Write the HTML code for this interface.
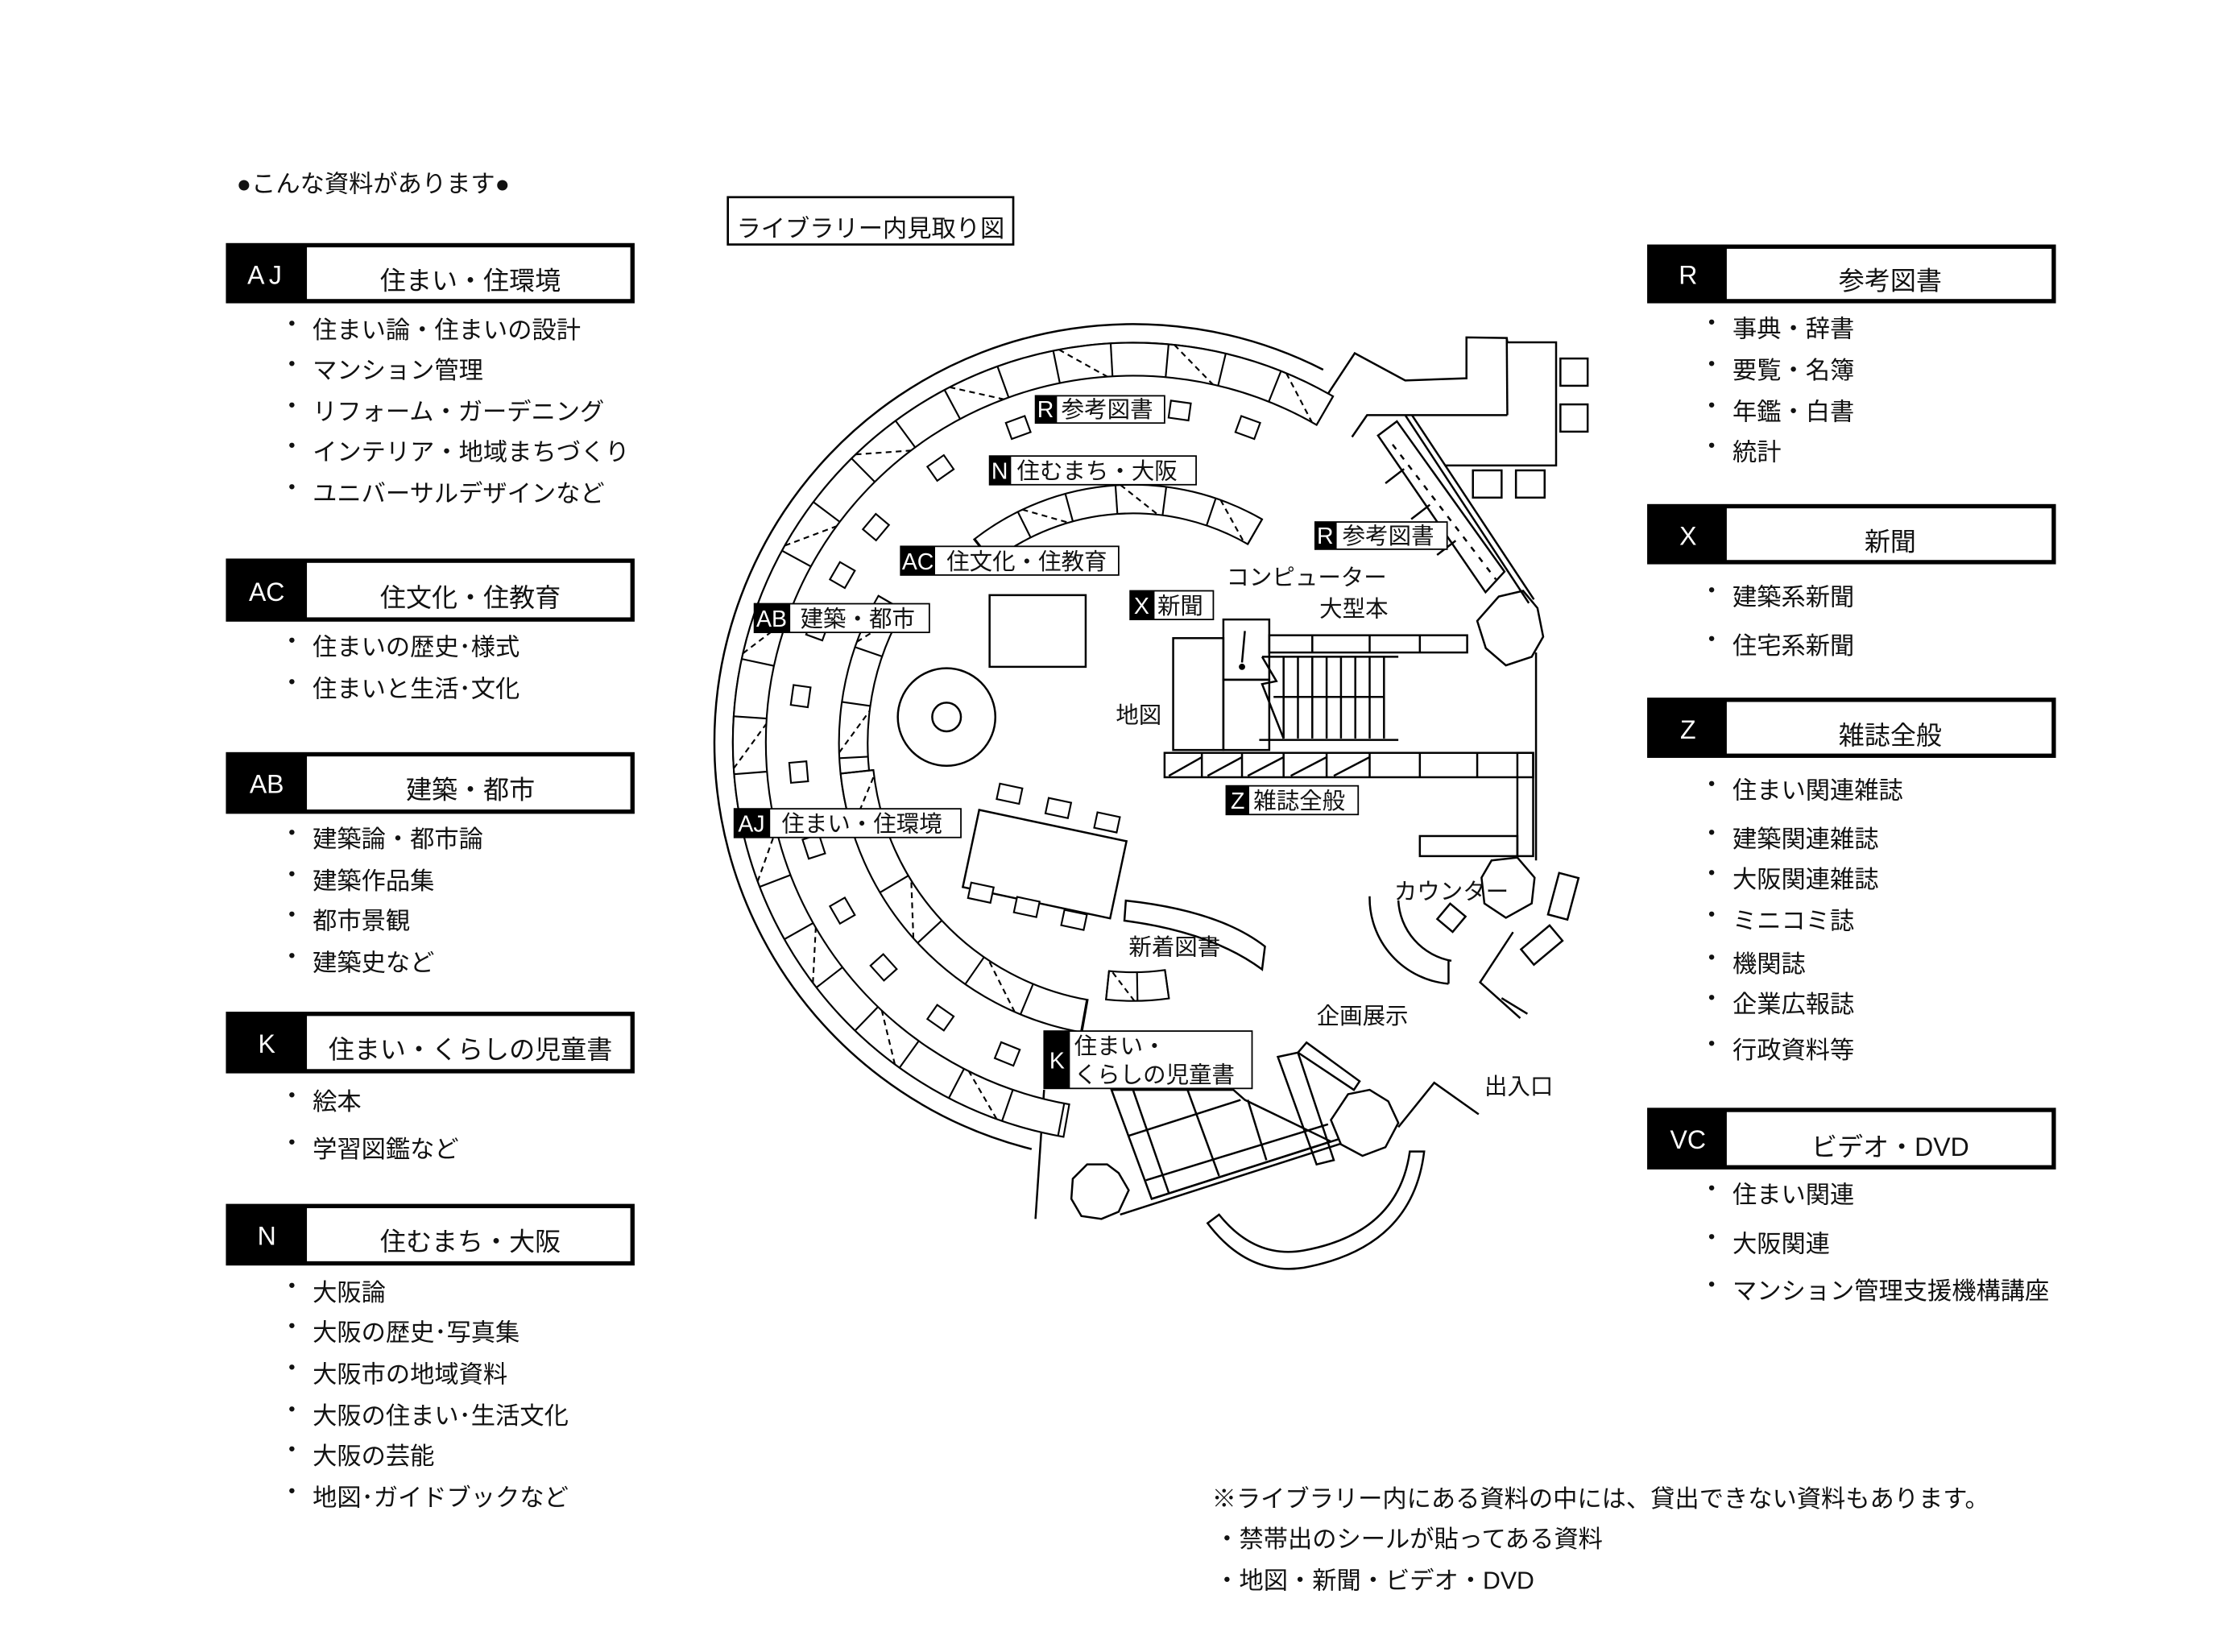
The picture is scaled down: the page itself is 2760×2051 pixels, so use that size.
<!DOCTYPE html>
<html><head><meta charset="utf-8">
<style>
html,body{margin:0;padding:0;background:#fff;}
svg{display:block;}
text{font-family:"Liberation Sans","Noto Sans CJK JP",sans-serif;fill:#111;}
</style></head>
<body>
<svg id="s" width="2760" height="2051" viewBox="0 0 1550 1152" preserveAspectRatio="none" xmlns="http://www.w3.org/2000/svg">
<rect width="1550" height="1152" fill="#fff"/>
<g font-size="17">
<text x="165" y="134">●こんな資料があります●</text>
</g>

<g font-size="18">
  <rect x="159" y="171" width="282" height="39" fill="#fff" stroke="#000" stroke-width="3"/><rect x="159" y="171" width="55" height="39" fill="#000"/>
  <text x="186" y="198" style="fill:#fff" text-anchor="middle" letter-spacing="3">AJ</text><text x="328" y="202" text-anchor="middle">住まい・住環境</text>
  <rect x="159" y="391" width="282" height="41" fill="#fff" stroke="#000" stroke-width="3"/><rect x="159" y="391" width="55" height="41" fill="#000"/>
  <text x="186" y="419" style="fill:#fff" text-anchor="middle">AC</text><text x="328" y="423" text-anchor="middle">住文化・住教育</text>
  <rect x="159" y="526" width="282" height="40" fill="#fff" stroke="#000" stroke-width="3"/><rect x="159" y="526" width="55" height="40" fill="#000"/>
  <text x="186" y="553" style="fill:#fff" text-anchor="middle">AB</text><text x="328" y="557" text-anchor="middle">建築・都市</text>
  <rect x="159" y="707" width="282" height="40" fill="#fff" stroke="#000" stroke-width="3"/><rect x="159" y="707" width="55" height="40" fill="#000"/>
  <text x="186" y="734" style="fill:#fff" text-anchor="middle">K</text><text x="328" y="738" text-anchor="middle">住まい・くらしの児童書</text>
  <rect x="159" y="841" width="282" height="40" fill="#fff" stroke="#000" stroke-width="3"/><rect x="159" y="841" width="55" height="40" fill="#000"/>
  <text x="186" y="868" style="fill:#fff" text-anchor="middle">N</text><text x="328" y="872" text-anchor="middle">住むまち・大阪</text>
</g>
<g font-size="17">
  <text x="195" y="232">・</text><text x="218" y="236">住まい論・住まいの設計</text>
  <text x="195" y="260">・</text><text x="218" y="264">マンション管理</text>
  <text x="195" y="289">・</text><text x="218" y="293">リフォーム・ガーデニング</text>
  <text x="195" y="317">・</text><text x="218" y="321">インテリア・地域まちづくり</text>
  <text x="195" y="346">・</text><text x="218" y="350">ユニバーサルデザインなど</text>
  <text x="195" y="453">・</text><text x="218" y="457">住まいの歴史･様式</text>
  <text x="195" y="482">・</text><text x="218" y="486">住まいと生活･文化</text>
  <text x="195" y="587">・</text><text x="218" y="591">建築論・都市論</text>
  <text x="195" y="616">・</text><text x="218" y="620">建築作品集</text>
  <text x="195" y="644">・</text><text x="218" y="648">都市景観</text>
  <text x="195" y="673">・</text><text x="218" y="677">建築史など</text>
  <text x="195" y="770">・</text><text x="218" y="774">絵本</text>
  <text x="195" y="803">・</text><text x="218" y="807">学習図鑑など</text>
  <text x="195" y="903">・</text><text x="218" y="907">大阪論</text>
  <text x="195" y="931">・</text><text x="218" y="935">大阪の歴史･写真集</text>
  <text x="195" y="960">・</text><text x="218" y="964">大阪市の地域資料</text>
  <text x="195" y="989">・</text><text x="218" y="993">大阪の住まい･生活文化</text>
  <text x="195" y="1017">・</text><text x="218" y="1021">大阪の芸能</text>
  <text x="195" y="1046">・</text><text x="218" y="1050">地図･ガイドブックなど</text>
</g>

<g font-size="18">
  <rect x="1150" y="172" width="282" height="38" fill="#fff" stroke="#000" stroke-width="3"/><rect x="1150" y="172" width="54" height="38" fill="#000"/>
  <text x="1177" y="198" style="fill:#fff" text-anchor="middle">R</text><text x="1318" y="202" text-anchor="middle">参考図書</text>
  <rect x="1150" y="353" width="282" height="39" fill="#fff" stroke="#000" stroke-width="3"/><rect x="1150" y="353" width="54" height="39" fill="#000"/>
  <text x="1177" y="380" style="fill:#fff" text-anchor="middle">X</text><text x="1318" y="384" text-anchor="middle">新聞</text>
  <rect x="1150" y="488" width="282" height="39" fill="#fff" stroke="#000" stroke-width="3"/><rect x="1150" y="488" width="54" height="39" fill="#000"/>
  <text x="1177" y="515" style="fill:#fff" text-anchor="middle">Z</text><text x="1318" y="519" text-anchor="middle">雑誌全般</text>
  <rect x="1150" y="774" width="282" height="40" fill="#fff" stroke="#000" stroke-width="3"/><rect x="1150" y="774" width="54" height="40" fill="#000"/>
  <text x="1177" y="801" style="fill:#fff" text-anchor="middle">VC</text><text x="1318" y="806" text-anchor="middle">ビデオ・DVD</text>
</g>
<g font-size="17">
  <text x="1185" y="231">・</text><text x="1208" y="235">事典・辞書</text>
  <text x="1185" y="260">・</text><text x="1208" y="264">要覧・名簿</text>
  <text x="1185" y="289">・</text><text x="1208" y="293">年鑑・白書</text>
  <text x="1185" y="317">・</text><text x="1208" y="321">統計</text>
  <text x="1185" y="418">・</text><text x="1208" y="422">建築系新聞</text>
  <text x="1185" y="452">・</text><text x="1208" y="456">住宅系新聞</text>
  <text x="1185" y="553">・</text><text x="1208" y="557">住まい関連雑誌</text>
  <text x="1185" y="587">・</text><text x="1208" y="591">建築関連雑誌</text>
  <text x="1185" y="615">・</text><text x="1208" y="619">大阪関連雑誌</text>
  <text x="1185" y="644">・</text><text x="1208" y="648">ミニコミ誌</text>
  <text x="1185" y="674">・</text><text x="1208" y="678">機関誌</text>
  <text x="1185" y="702">・</text><text x="1208" y="706">企業広報誌</text>
  <text x="1185" y="734">・</text><text x="1208" y="738">行政資料等</text>
  <text x="1185" y="835">・</text><text x="1208" y="839">住まい関連</text>
  <text x="1185" y="869">・</text><text x="1208" y="873">大阪関連</text>
  <text x="1185" y="902">・</text><text x="1208" y="906">マンション管理支援機構講座</text>
</g>

<rect x="507.5" y="137.5" width="199" height="33" fill="#fff" stroke="#000" stroke-width="1.5"/>
<text x="607" y="165" font-size="17" text-anchor="middle">ライブラリー内見取り図</text>

<g font-size="17">
<text x="845" y="1051">※ライブラリー内にある資料の中には、貸出できない資料もあります。</text>
<text x="847" y="1079">・禁帯出のシールが貼ってある資料</text>
<text x="847" y="1108">・地図・新聞・ビデオ・DVD</text>
</g>

<g id="map" fill="none" stroke="#000" stroke-width="1.4">
  <path d="M922.6,257.8 A292,292 0 1 0 719.3,801.3"/>
  <g id="dynwall"></g>
  <rect x="690" y="415" width="67" height="50" fill="#fff"/>
  <circle cx="660" cy="500" r="34"/><circle cx="660" cy="500" r="10"/>
  <rect x="676" y="575" width="105" height="55" transform="rotate(12 728 602)" fill="#fff"/>
  <path d="M785,628 Q850,635 882,660 L880,676 Q845,650 784,642 Z" fill="#fff"/>
  <!-- stairs block -->
  <rect x="818" y="445" width="35" height="78"/>
  <rect x="853" y="432" width="32" height="42"/><rect x="853" y="474" width="32" height="49"/>
  <rect x="885" y="443" width="138" height="12"/>
  <line x1="915" y1="443" x2="915" y2="455"/><line x1="955" y1="443" x2="955" y2="455"/><line x1="990" y1="443" x2="990" y2="455"/>
  <line x1="880" y1="458" x2="975" y2="458"/>
  <line x1="878" y1="516" x2="975" y2="516"/>
  <polyline points="880,458 890,475 880,477 895,515"/>
  <line x1="868" y1="440" x2="866" y2="462"/>
  <circle cx="866" cy="465" r="1.5" fill="#000"/>
  <g>
    <line x1="895" y1="458" x2="895" y2="515"/><line x1="905" y1="458" x2="905" y2="515"/><line x1="915" y1="458" x2="915" y2="515"/>
    <line x1="925" y1="458" x2="925" y2="515"/><line x1="935" y1="458" x2="935" y2="515"/><line x1="945" y1="458" x2="945" y2="515"/>
    <line x1="955" y1="458" x2="955" y2="515"/><line x1="965" y1="458" x2="965" y2="515"/>
    <line x1="888" y1="486" x2="965" y2="486"/>
  </g>
  <rect x="812" y="525" width="257" height="17"/>
  <line x1="838" y1="525" x2="838" y2="542"/><line x1="866" y1="525" x2="866" y2="542"/><line x1="895" y1="525" x2="895" y2="542"/><line x1="925" y1="525" x2="925" y2="542"/><line x1="955" y1="525" x2="955" y2="542"/><line x1="990" y1="525" x2="990" y2="542"/><line x1="1030" y1="525" x2="1030" y2="542"/>
  <line x1="815" y1="541" x2="838" y2="528"/><line x1="842" y1="541" x2="866" y2="528"/><line x1="870" y1="541" x2="895" y2="528"/><line x1="900" y1="541" x2="925" y2="528"/><line x1="930" y1="541" x2="955" y2="528"/>
  <rect x="1058" y="525" width="11" height="72"/>
  <rect x="990" y="583" width="68" height="14"/>
  <!-- right building -->
  <polyline points="921.8,280.9 944.6,246.3 979.8,265.3 1022.5,263.8 1022.5,235.3 1050.6,235.7 1051,238.7 1085,238.7 1085,324.6 1007.3,324.6"/>
  <line x1="1050.6" y1="235.7" x2="1051" y2="289.5"/>
  <polyline points="1051,289.5 953.2,289.5 942.7,304.7"/>
  <rect x="1088" y="250" width="19" height="19"/><rect x="1088" y="282" width="19" height="19"/>
  <rect x="1027" y="328" width="20" height="19"/><rect x="1057" y="328" width="20" height="19"/>
  <line x1="979.8" y1="289.5" x2="1066" y2="420.6"/>
  <line x1="984.5" y1="289.5" x2="1069.5" y2="418"/>
  <polygon points="960.8,303.7 974,293.8 1049,398.6 1035.8,413"/>
  <line x1="979" y1="327" x2="966" y2="337"/><line x1="997" y1="352" x2="984" y2="362"/><line x1="1015" y1="377" x2="1002" y2="387"/>
  <line x1="971" y1="310" x2="1043" y2="404" stroke-dasharray="4,5"/>
  <polygon points="1045,416 1062,412 1072,424 1076,444 1068,458 1050,464 1036,452 1030,433"/>
  <line x1="1071" y1="455" x2="1071" y2="600"/>
  <!-- counter -->
  <path d="M955,625 A60,60 0 0 0 1010,686"/>
  <path d="M975,628 A45,45 0 0 0 1012,670"/>
  <path d="M1010,670 L1010,686"/>
  <rect x="1005" y="633" width="14" height="14" transform="rotate(40 1012 640)"/>
  <polygon points="1040,600 1058,598 1070,612 1068,630 1050,640 1035,630 1033,612"/>
  <rect x="1083" y="610" width="14" height="30" transform="rotate(15 1090 625)"/>
  <rect x="1062" y="652" width="26" height="14" transform="rotate(-40 1075 659)"/>
  <polyline points="1055,650 1032,685 1060,710"/>
  <line x1="1047" y1="696" x2="1065" y2="707"/>
  <!-- entrance -->
  <polygon points="891,737 905,734 930,809 918,812"/>
  <polygon points="905,734 911,727 948,754 944,760"/>
  <polygon points="775,760 860,760 868,767 928,796 803,836"/>
  <line x1="790" y1="760" x2="815" y2="832"/>
  <line x1="828" y1="760" x2="850" y2="820"/>
  <line x1="870" y1="767" x2="883" y2="809"/>
  <line x1="787" y1="792" x2="865" y2="767"/>
  <line x1="799" y1="823" x2="926" y2="784"/>
  <line x1="781" y1="847" x2="952" y2="792"/>
  <line x1="803" y1="836" x2="944" y2="791"/>
  <polygon points="940,763 955,760 968,768 975,783 966,800 950,806 935,798 928,781" fill="#fff"/>
  <polyline points="975,786 1000,755 1031,777"/>
  <polygon points="758,812 772,812 780,818 787,830 780,845 768,850 754,848 747,836 748,822" fill="#fff"/>
  <path d="M842,853 Q870,890 909,884 Q985,870 993,803 L983,803 Q975,860 909,872 Q875,878 850,847 Z" fill="#fff"/>
  <polyline points="728,760 722,850"/>
</g>
<g id="dyn" fill="none" stroke="#000" stroke-width="1.2"></g>

<g font-size="16">
  <rect x="722" y="276" width="90" height="19" fill="#fff" stroke="#000"/><rect x="722" y="276" width="15" height="19" fill="#000"/>
  <text x="729" y="291" style="fill:#fff" text-anchor="middle">R</text><text x="740" y="291">参考図書</text>
  <rect x="690" y="318" width="144" height="20" fill="#fff" stroke="#000"/><rect x="690" y="318" width="15" height="20" fill="#000"/>
  <text x="697" y="334" style="fill:#fff" text-anchor="middle">N</text><text x="709" y="334">住むまち・大阪</text>
  <rect x="628" y="381" width="152" height="20" fill="#fff" stroke="#000"/><rect x="628" y="381" width="24" height="20" fill="#000"/>
  <text x="640" y="397" style="fill:#fff" text-anchor="middle">AC</text><text x="660" y="397">住文化・住教育</text>
  <rect x="526" y="421" width="122" height="20" fill="#fff" stroke="#000"/><rect x="526" y="421" width="25" height="20" fill="#000"/>
  <text x="538" y="437" style="fill:#fff" text-anchor="middle">AB</text><text x="558" y="437">建築・都市</text>
  <rect x="788" y="412" width="58" height="20" fill="#fff" stroke="#000"/><rect x="788" y="412" width="17" height="20" fill="#000"/>
  <text x="796" y="428" style="fill:#fff" text-anchor="middle">X</text><text x="807" y="428">新聞</text>
  <rect x="917" y="364" width="92" height="19" fill="#fff" stroke="#000"/><rect x="917" y="364" width="15" height="19" fill="#000"/>
  <text x="924" y="379" style="fill:#fff" text-anchor="middle">R</text><text x="936" y="379">参考図書</text>
  <rect x="855" y="548" width="92" height="20" fill="#fff" stroke="#000"/><rect x="855" y="548" width="16" height="20" fill="#000"/>
  <text x="863" y="564" style="fill:#fff" text-anchor="middle">Z</text><text x="874" y="564">雑誌全般</text>
  <rect x="512" y="564" width="158" height="20" fill="#fff" stroke="#000"/><rect x="512" y="564" width="25" height="20" fill="#000"/>
  <text x="524" y="580" style="fill:#fff" text-anchor="middle">AJ</text><text x="545" y="580">住まい・住環境</text>
  <rect x="728" y="719" width="145" height="40" fill="#fff" stroke="#000"/><rect x="728" y="719" width="18" height="40" fill="#000"/>
  <text x="737" y="745" style="fill:#fff" text-anchor="middle">K</text><text x="749" y="735">住まい・</text><text x="749" y="755">くらしの児童書</text>
  <text x="855" y="408">コンピューター</text>
  <text x="920" y="430">大型本</text>
  <text x="778" y="504">地図</text>
  <text x="972" y="627">カウンター</text>
  <text x="787" y="666">新着図書</text>
  <text x="918" y="714">企画展示</text>
  <text x="1035" y="763">出入口</text>
</g>

<script>
(function(){
var g=document.getElementById('dyn'),ns='http://www.w3.org/2000/svg',cx=790,cy=518;
function P(r,a){a=a*Math.PI/180;return [cx+r*Math.cos(a),cy+r*Math.sin(a)];}
function el(n,at,par){var e=document.createElementNS(ns,n);for(var k in at)e.setAttribute(k,at[k]);(par||g).appendChild(e);return e;}
function band(r1,r2,a1,a2,step,dash){
  var p1=P(r1,a1),p2=P(r1,a2),q1=P(r2,a1),q2=P(r2,a2),large=(a1-a2)>180?1:0;
  el('path',{d:'M'+p1+' A'+r1+','+r1+' 0 '+large+' 0 '+p2+' L'+q2+' A'+r2+','+r2+' 0 '+large+' 1 '+q1+' Z',fill:'#fff'});
  var i=0;
  for(var a=a1;a>=a2-0.01;a-=step){var u=P(r1,a),v=P(r2,a);el('line',{x1:u[0],y1:u[1],x2:v[0],y2:v[1]});
    if(dash&&a-step>=a2-0.01&&(i%2==0)){var w=P(r1,a-step*0.9),z=P(r2,a-step*0.1);el('line',{x1:w[0],y1:w[1],x2:z[0],y2:z[1],'stroke-dasharray':'4,3'});}
    i++;}
}
// inner wall line
var a1=P(279,-63),a2=P(279,104);
el('path',{d:'M'+a1+' A279,279 0 1 0 '+a2,fill:'none'});
band(279,256,-60,-260,8.3,true);
band(180,160,-60,-128,11.3,true);
band(205,185,-150,-195,11,true);
band(205,182,174,100,12.3,true);
band(180,160,96,82,7,true);
var sq=[-95,-82,-70,-110,-125,-140,-150,-160,-172,-185,-198,-210,-222,-235,-248];
sq.forEach(function(a){var c=P(234,a);el('rect',{x:c[0]-7,y:c[1]-6,width:14,height:12,transform:'rotate('+(a+90)+' '+c[0]+' '+c[1]+')',fill:'#fff'});});
[[704,553],[738,563],[772,573],[684,622],[716,632],[749,641]].forEach(function(c){el('rect',{x:c[0]-8,y:c[1]-5,width:16,height:11,transform:'rotate(12 '+c[0]+' '+c[1]+')',fill:'#fff'});});
})();
</script>
</svg>
</body></html>
